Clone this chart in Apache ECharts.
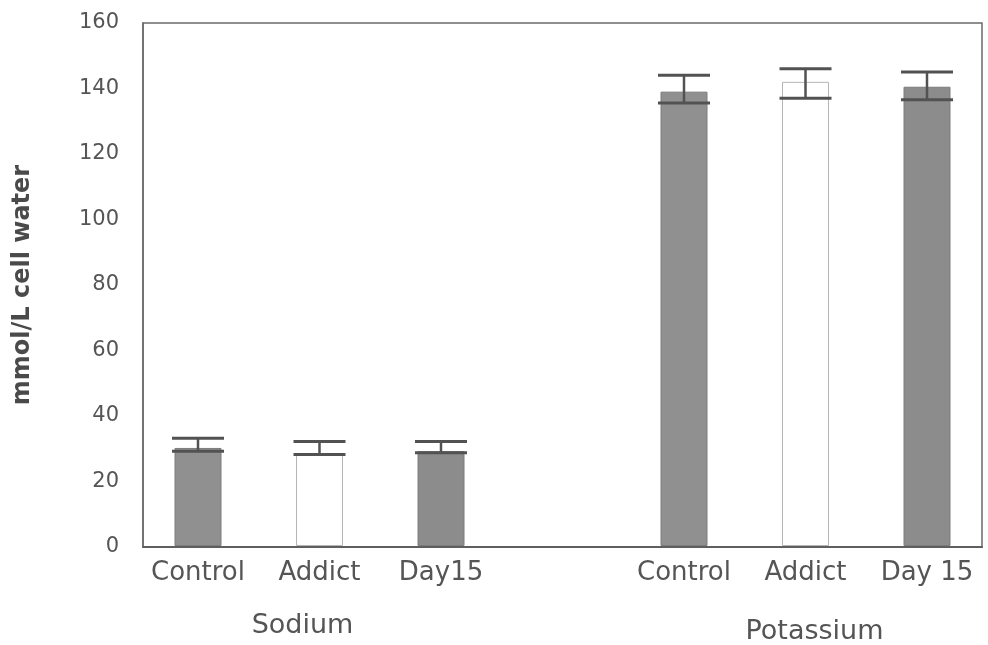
<!DOCTYPE html>
<html>
<head>
<meta charset="utf-8">
<title>Intracellular sodium and potassium</title>
<script src="https://cdn.jsdelivr.net/npm/echarts@6/dist/echarts.min.js"></script>
<style>
  html, body { margin: 0; padding: 0; background: #ffffff; }
  #chart { width: 988px; height: 645px; }
</style>
</head>
<body>
<div id="chart"></div>
<script>
// Group conditions shown along the x axis (slot 3 is the gap between ions)
const categories = ['Control', 'Addict', 'Day15', '', 'Control', 'Addict', 'Day 15'];
const groupLabels = ['', 'Sodium', '', '', '', 'Potassium', ''];
const conditionKeys = ['control', 'addict', 'day15', null, 'control', 'addict', 'day15'];

// Mean concentration (mmol/L cell water)
const meanValues = [30, 28, 29, null, 139, 142, 140.5];
// Error bar ends
const errorLow = [29, 28, 28.5, null, 135.5, 137, 136.5];
const errorHigh = [33, 32, 32, null, 144, 146, 145];

// y axis ticks
const yTicks = [0, 20, 40, 60, 80, 100, 120, 140, 160];

const FONT = 'DejaVu Sans';
const TEXT = '#555555';

const conditionStyle = {
  control: { color: '#909090', borderColor: '#7c7c7c', borderWidth: 1 },
  addict:  { color: '#ffffff', borderColor: '#b5b5b5', borderWidth: 1 },
  day15:   { color: '#8c8c8c', borderColor: '#7c7c7c', borderWidth: 1 }
};

// group label nudges relative to the middle slot of each ion
const groupLabelStyle = {
  1: { padding: [0, 34, 0, 0] },
  5: { padding: [6, 0, 0, 18] }
};

const barData = meanValues.map((v, i) =>
  v == null ? '-' : { value: v, itemStyle: conditionStyle[conditionKeys[i]] }
);

const errorData = [];
errorLow.forEach((lo, i) => {
  if (lo != null) errorData.push([i, lo, errorHigh[i]]);
});

const chart = echarts.init(document.getElementById('chart'), null, { renderer: 'canvas' });

const gridTop = 23;
const gridBottom = 98;

chart.setOption({
  animation: false,
  backgroundColor: '#ffffff',
  grid: [
    // plotting frame with the value axis
    { left: 143, right: 6, top: gridTop, bottom: gridBottom, show: true,
      borderColor: '#6a6a6a', borderWidth: 1.5, backgroundColor: 'transparent' },
    // bar slots
    { left: 137.25, right: 0.25, top: gridTop, bottom: gridBottom }
  ],
  xAxis: [
    { gridIndex: 0, type: 'category', data: categories,
      axisLine: { show: true, lineStyle: { color: '#5f5f5f', width: 2 } },
      axisTick: { show: false }, axisLabel: { show: false } },
    { gridIndex: 1, type: 'category', data: categories,
      axisLine: { show: false }, axisTick: { show: false },
      axisLabel: { color: TEXT, fontFamily: FONT, fontSize: 26, margin: 14, interval: 0 } },
    { gridIndex: 1, type: 'category',
      data: groupLabels.map((g, i) => groupLabelStyle[i] ? { value: g, textStyle: groupLabelStyle[i] } : g),
      position: 'bottom', offset: 52,
      axisLine: { show: false }, axisTick: { show: false },
      axisLabel: { color: TEXT, fontFamily: FONT, fontSize: 27, margin: 14, interval: 0 } }
  ],
  yAxis: [
    { gridIndex: 0, type: 'value', min: 0, max: 160, interval: 20,
      name: 'mmol/L cell water', nameLocation: 'middle', nameGap: 108, nameRotate: 90,
      nameTextStyle: { color: '#4a4a4a', fontFamily: FONT, fontSize: 24, fontWeight: 'bold' },
      axisLine: { show: true, lineStyle: { color: '#6a6a6a', width: 1.5 } },
      axisTick: { show: false }, splitLine: { show: false },
      axisLabel: { color: TEXT, fontFamily: FONT, fontSize: 21, margin: 24,
        formatter: v => yTicks.includes(v) ? String(v) : '' } },
    { gridIndex: 1, type: 'value', min: 0, max: 160, interval: 20, show: false }
  ],
  series: [
    { type: 'bar', xAxisIndex: 1, yAxisIndex: 1, data: barData, barWidth: 47, z: 2 },
    { type: 'custom', xAxisIndex: 1, yAxisIndex: 1, data: errorData, z: 3,
      renderItem: function (params, api) {
        const x = api.value(0);
        const top = api.coord([x, api.value(2)]);
        const bot = api.coord([x, api.value(1)]);
        const half = 26;
        const style = { stroke: '#525252', lineWidth: 3 };
        return {
          type: 'group',
          children: [
            { type: 'line', shape: { x1: top[0], y1: top[1], x2: bot[0], y2: bot[1] },
              style: { stroke: '#525252', lineWidth: 2.5 } },
            { type: 'line', shape: { x1: top[0] - half, y1: top[1], x2: top[0] + half, y2: top[1] }, style },
            { type: 'line', shape: { x1: bot[0] - half, y1: bot[1], x2: bot[0] + half, y2: bot[1] }, style }
          ]
        };
      }
    }
  ]
});
</script>
</body>
</html>
